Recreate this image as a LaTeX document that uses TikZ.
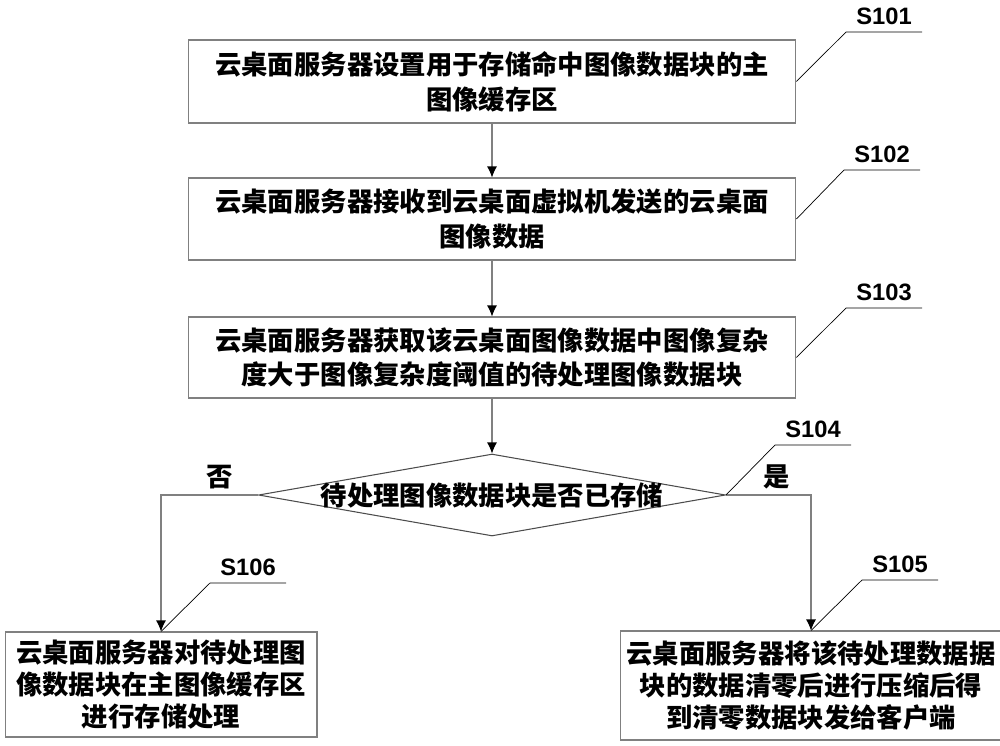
\documentclass[tikz,border=0pt]{standalone}
\usepackage{fontspec}
\usetikzlibrary{arrows.meta,shapes.geometric}
\newfontfamily\cjk{Noto Sans CJK SC}
\newfontfamily\labfont{Liberation Sans}

\begin{document}
\begin{tikzpicture}[x=0.02cm,y=-0.02cm,->,>={Latex[length=0.22cm,width=0.2cm,black]},
                    semithick]
  \tikzstyle{every node}=[font=\cjk\bfseries\fontsize{15}{19.8}\selectfont]
  \tikzstyle{box}=[draw=gray,rectangle,align=center,minimum width=12.16cm]
  \tikzstyle{endbox}=[draw=gray,rectangle,align=center,
                      font=\cjk\bfseries\fontsize{15}{18.4}\selectfont]
  \tikzstyle{decision}=[draw=black!70,diamond,inner sep=0pt,
                        minimum width=9.34cm,minimum height=1.64cm]
  \tikzstyle{steplab}=[font=\labfont\bfseries\fontsize{13.5}{16}\selectfont,
                       anchor=south west,inner xsep=0pt,inner ysep=4pt,minimum width=1.5cm]
  \tikzstyle{lead}=[-,thin,black]
  \useasboundingbox (0,0) rectangle (1000,746);

  \node[box,minimum height=1.66cm] (s101) at (492,81.5)
       {云桌面服务器设置用于存储命中图像数据块的主\\图像缓存区};
  \node[box,minimum height=1.64cm] (s102) at (492,219)
       {云桌面服务器接收到云桌面虚拟机发送的云桌面\\图像数据};
  \node[box,minimum height=1.62cm] (s103) at (492,357.5)
       {云桌面服务器获取该云桌面图像数据中图像复杂\\度大于图像复杂度阈值的待处理图像数据块};
  \node[decision] (s104) at (492,495) {};
  \node (q104) at (s104) {待处理图像数据块是否已存储};
  \node[endbox,minimum width=7.2cm,minimum height=2.18cm] (s105) at (811,685.5)
       {云桌面服务器将该待处理数据据\\块的数据清零后进行压缩后得\\到清零数据块发给客户端};
  \node[endbox,minimum width=6.24cm,minimum height=2.1cm] (s106) at (161,684.5)
       {云桌面服务器对待处理图\\像数据块在主图像缓存区\\进行存储处理};

  \node (no) at (220,477) {否};
  \node (yes) at (777,477) {是};

  % step labels
  \node[steplab] (l101) at (846,32) {S101};
  \node[steplab] (l102) at (844,170) {S102};
  \node[steplab] (l103) at (846,308) {S103};
  \node[steplab] (l104) at (775,445) {S104};
  \node[steplab] (l105) at (862,580) {S105};
  \node[steplab] (l106) at (210,583) {S106};

  \draw[draw=gray] (s101) -- (s102);
  \draw[draw=gray] (s102) -- (s103);
  \draw[draw=gray] (s103) -- (s104);
  \draw[draw=gray] (s104.west) -| (s106);
  \draw[draw=gray] (s104.east) -| (s105);

  \draw[lead] (s101.east) -- (l101.south west) -- (l101.south east);
  \draw[lead] (s102.east) -- (l102.south west) -- (l102.south east);
  \draw[lead] (s103.east) -- (l103.south west) -- (l103.south east);
  \draw[lead] (s104.east) -- (l104.south west) -- (l104.south east);
  \draw[lead] (s105.north) -- (l105.south west) -- (l105.south east);
  \draw[lead] (s106.north) -- (l106.south west) -- (l106.south east);
\end{tikzpicture}
\end{document}
